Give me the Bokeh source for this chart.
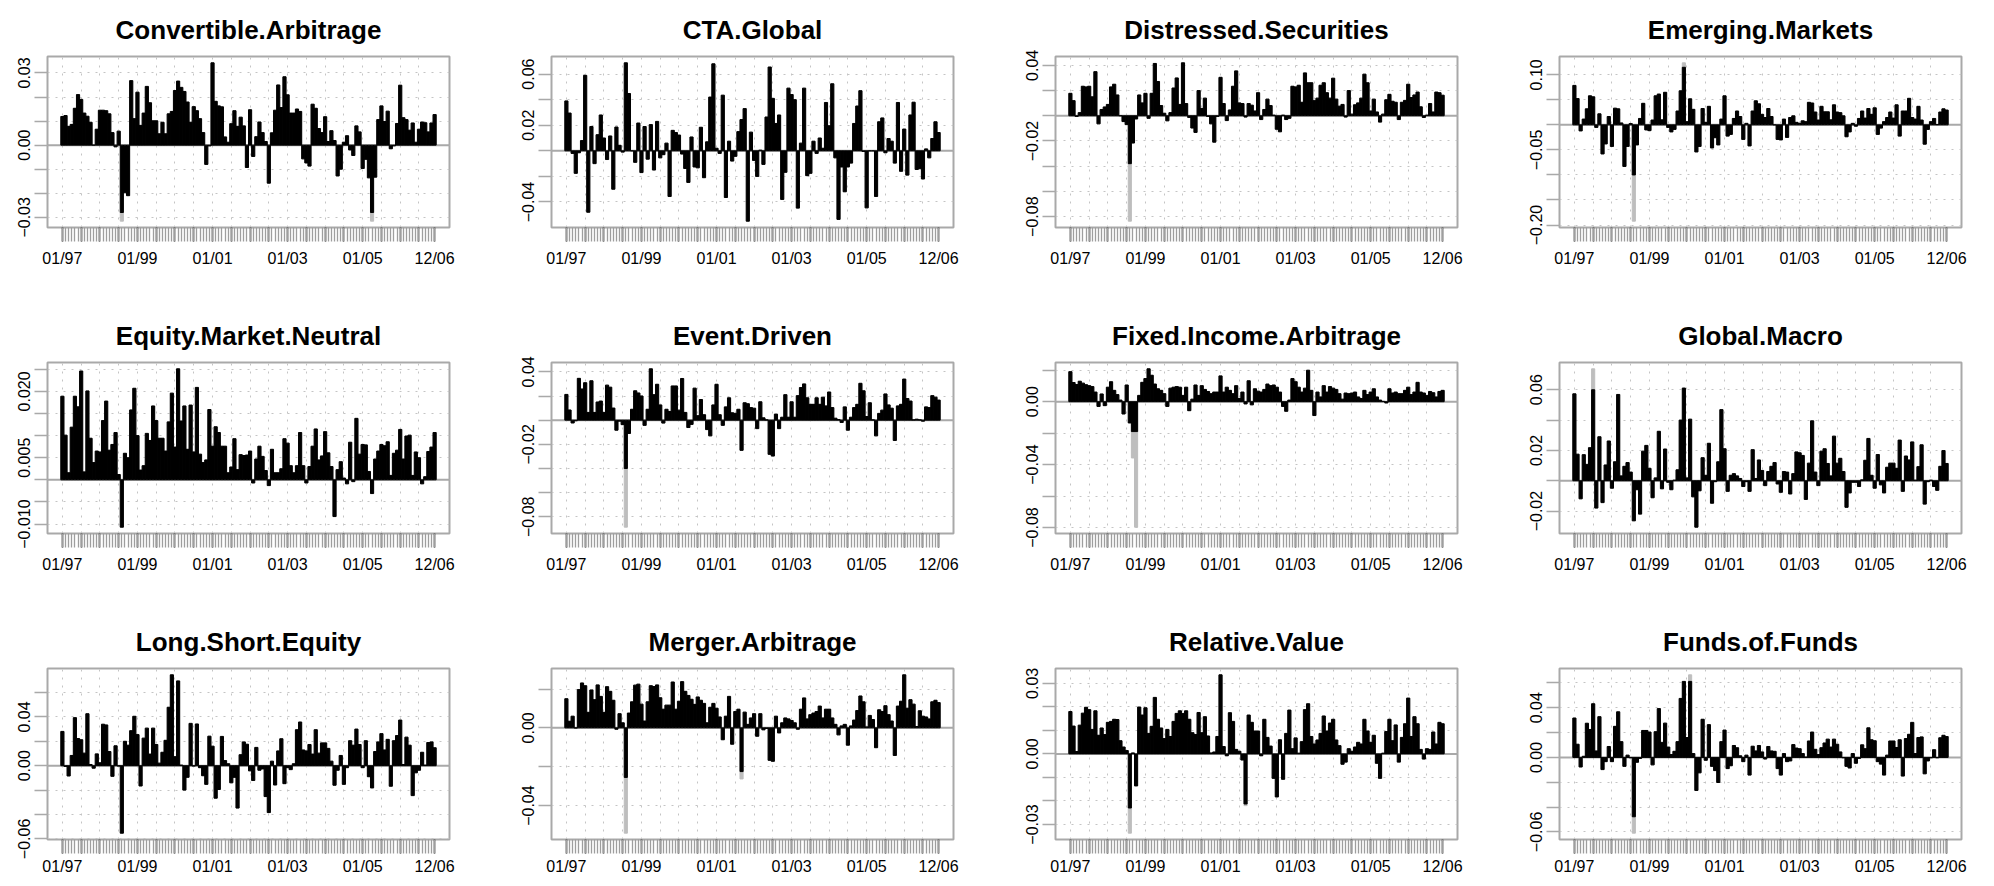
from bokeh.plotting import figure
from bokeh.layouts import gridplot
from bokeh.models import FixedTicker, Span, ColumnDataSource
from bokeh.embed import file_html
from bokeh.resources import INLINE

# ---------------- data (monthly returns, Jan 1997 .. Dec 2006) ----------------
convertible_arbitrage = [
    0.0119, 0.0123, 0.0078, 0.0086, 0.0153, 0.0210, 0.0190, 0.0133, 0.0120, 0.0095,
    0.0000, 0.0066, 0.0145, 0.0145, 0.0143, 0.0130, 0.0052, -0.0007, 0.0058, -0.0280,
    -0.0198, -0.0210, 0.0268, 0.0110, 0.0220, 0.0082, 0.0133, 0.0244, 0.0176, 0.0101,
    0.0101, 0.0047, 0.0095, 0.0047, 0.0130, 0.0140, 0.0227, 0.0266, 0.0240, 0.0223,
    0.0179, 0.0095, 0.0160, 0.0143, 0.0110, 0.0052, -0.0080, -0.0003, 0.0342, 0.0182,
    0.0163, 0.0159, 0.0034, 0.0012, 0.0089, 0.0143, 0.0078, 0.0116, 0.0080, -0.0093,
    0.0147, -0.0047, 0.0035, 0.0096, 0.0052, 0.0015, -0.0158, 0.0051, 0.0145, 0.0250,
    0.0156, 0.0284, 0.0209, 0.0133, 0.0133, 0.0150, 0.0140, -0.0057, -0.0074, -0.0087,
    0.0170, 0.0153, 0.0069, 0.0052, 0.0118, 0.0015, 0.0060, 0.0019, -0.0128, -0.0100,
    0.0012, 0.0039, -0.0020, -0.0043, 0.0080, 0.0055, -0.0097, -0.0059, -0.0136, -0.0280,
    -0.0133, 0.0106, 0.0163, 0.0098, 0.0141, -0.0015, -0.0003, 0.0090, 0.0249, 0.0114,
    0.0106, 0.0062, 0.0092, 0.0012, 0.0066, 0.0096, 0.0093, 0.0055, 0.0092, 0.0127]
convertible_arbitrage_raw_month = [19, 99]
convertible_arbitrage_raw_value = [-0.0316, -0.0316]

cta_global = [
    0.0390, 0.0295, -0.0020, -0.0176, -0.0015, 0.0080, 0.0590, -0.0480, 0.0190, -0.0100,
    0.0126, 0.0280, 0.0100, -0.0068, 0.0116, -0.0300, 0.0186, 0.0043, -0.0010, 0.0688,
    0.0448, 0.0000, -0.0090, 0.0217, -0.0170, 0.0190, -0.0065, 0.0205, -0.0150, 0.0230,
    -0.0055, -0.0030, 0.0060, -0.0357, 0.0160, 0.0143, 0.0123, -0.0025, -0.0138, -0.0247,
    0.0108, -0.0126, -0.0133, 0.0184, -0.0210, 0.0070, 0.0420, 0.0680, 0.0020, -0.0020,
    0.0435, -0.0365, 0.0075, -0.0080, -0.0043, 0.0150, 0.0244, 0.0330, -0.0550, 0.0146,
    -0.0075, -0.0200, 0.0005, -0.0106, 0.0264, 0.0655, 0.0410, 0.0214, 0.0280, -0.0380,
    -0.0168, 0.0490, 0.0440, 0.0400, -0.0448, 0.0060, 0.0490, -0.0194, -0.0176, 0.0075,
    -0.0020, 0.0100, 0.0020, 0.0378, 0.0196, 0.0524, -0.0055, -0.0536, -0.0126, -0.0320,
    -0.0126, -0.0096, 0.0214, 0.0350, 0.0470, -0.0005, -0.0446, 0.0000, 0.0000, -0.0357,
    0.0227, 0.0257, -0.0015, 0.0096, 0.0075, -0.0096, 0.0378, -0.0160, 0.0170, -0.0190,
    0.0280, 0.0380, -0.0146, -0.0140, -0.0220, 0.0015, -0.0055, 0.0096, 0.0227, 0.0143]
cta_global_raw_month = []
cta_global_raw_value = []

distressed_securities = [
    0.0178, 0.0120, -0.0005, 0.0025, 0.0234, 0.0229, 0.0234, 0.0150, 0.0350, -0.0064,
    0.0050, 0.0070, 0.0090, 0.0229, 0.0250, 0.0165, 0.0000, -0.0046, -0.0070, -0.0380,
    -0.0216, -0.0025, 0.0165, 0.0102, 0.0178, -0.0020, 0.0178, 0.0415, 0.0272, 0.0081,
    0.0020, -0.0040, 0.0025, 0.0220, 0.0300, 0.0090, 0.0420, 0.0097, -0.0013, -0.0097,
    -0.0132, 0.0200, 0.0058, 0.0140, -0.0005, -0.0064, -0.0209, -0.0005, 0.0305, 0.0097,
    -0.0038, 0.0046, 0.0234, 0.0356, 0.0102, 0.0097, -0.0010, 0.0097, 0.0084, 0.0038,
    0.0183, -0.0030, 0.0050, 0.0132, 0.0081, 0.0005, -0.0107, -0.0127, 0.0005, -0.0030,
    -0.0020, 0.0234, 0.0229, 0.0242, 0.0107, 0.0340, 0.0262, 0.0262, 0.0120, 0.0140,
    0.0242, 0.0262, 0.0183, 0.0140, 0.0298, 0.0132, 0.0076, 0.0090, -0.0010, 0.0200,
    0.0013, 0.0087, 0.0102, 0.0140, 0.0330, 0.0262, 0.0038, 0.0132, 0.0030, -0.0050,
    0.0013, 0.0127, 0.0170, 0.0115, 0.0107, -0.0030, 0.0107, 0.0122, 0.0250, 0.0145,
    0.0165, 0.0188, 0.0071, -0.0013, 0.0005, 0.0097, 0.0030, 0.0188, 0.0183, 0.0163]
distressed_securities_raw_month = [19]
distressed_securities_raw_value = [-0.0836]

emerging_markets = [
    0.0788, 0.0525, -0.0120, 0.0115, 0.0320, 0.0580, 0.0560, -0.0050, 0.0220, -0.0580,
    -0.0380, 0.0167, -0.0430, 0.0333, 0.0320, 0.0038, -0.0830, -0.0430, 0.0026, -0.1000,
    -0.0400, 0.0128, 0.0430, -0.0100, -0.0115, 0.0096, 0.0580, 0.0615, 0.0100, 0.0650,
    -0.0050, -0.0140, -0.0090, 0.0276, 0.0680, 0.1150, 0.0064, 0.0520, 0.0310, -0.0540,
    -0.0430, 0.0327, 0.0050, 0.0370, -0.0460, -0.0256, -0.0400, 0.0115, 0.0580, -0.0224,
    -0.0190, 0.0128, 0.0276, 0.0167, -0.0290, 0.0030, -0.0420, 0.0276, 0.0480, 0.0420,
    0.0210, 0.0147, 0.0327, 0.0167, 0.0000, -0.0290, -0.0300, 0.0115, -0.0250, 0.0147,
    0.0180, 0.0050, 0.0030, 0.0080, 0.0064, 0.0450, 0.0436, 0.0256, 0.0096, 0.0370,
    0.0260, 0.0260, 0.0100, 0.0400, 0.0256, 0.0244, 0.0180, -0.0237, -0.0140, 0.0030,
    -0.0026, 0.0128, 0.0276, 0.0135, 0.0327, 0.0210, 0.0340, -0.0190, -0.0064, 0.0064,
    0.0147, 0.0256, 0.0135, 0.0400, -0.0224, 0.0276, 0.0276, 0.0530, 0.0147, 0.0115,
    0.0370, 0.0096, -0.0385, -0.0090, 0.0064, 0.0128, 0.0005, 0.0256, 0.0320, 0.0295]
emerging_markets_raw_month = [19, 35]
emerging_markets_raw_value = [-0.1923, 0.1239]

equity_market_neutral = [
    0.0189, 0.0101, 0.0016, 0.0119, 0.0189, 0.0165, 0.0246, 0.0018, 0.0201, 0.0094,
    0.0039, 0.0065, 0.0063, 0.0134, 0.0178, 0.0067, 0.0080, 0.0107, 0.0012, -0.0107,
    0.0060, 0.0050, 0.0158, 0.0207, 0.0100, 0.0022, 0.0032, 0.0105, 0.0089, 0.0167,
    0.0134, 0.0094, 0.0094, 0.0065, 0.0131, 0.0196, 0.0074, 0.0251, 0.0133, 0.0167,
    0.0069, 0.0169, 0.0063, 0.0209, 0.0058, 0.0039, 0.0045, 0.0159, 0.0076, 0.0120,
    0.0107, 0.0076, 0.0076, 0.0016, 0.0029, 0.0093, 0.0023, 0.0057, 0.0055, 0.0056,
    0.0065, -0.0007, 0.0047, 0.0076, 0.0053, 0.0021, -0.0013, 0.0069, 0.0016, 0.0016,
    0.0025, 0.0093, 0.0083, 0.0032, 0.0016, 0.0032, 0.0107, 0.0032, -0.0007, 0.0030,
    0.0076, 0.0115, 0.0045, 0.0054, 0.0109, 0.0061, 0.0030, -0.0083, 0.0023, 0.0041,
    0.0004, -0.0009, 0.0085, -0.0004, 0.0139, 0.0058, 0.0080, 0.0079, 0.0019, -0.0031,
    0.0047, 0.0065, 0.0080, 0.0077, 0.0086, 0.0010, 0.0060, 0.0067, 0.0114, 0.0047,
    0.0099, 0.0101, 0.0010, 0.0063, 0.0050, -0.0009, 0.0007, 0.0064, 0.0074, 0.0107]
equity_market_neutral_raw_month = []
equity_market_neutral_raw_value = []

event_driven = [
    0.0213, 0.0084, -0.0023, -0.0005, 0.0346, 0.0258, 0.0310, 0.0064, 0.0326, 0.0064,
    0.0150, 0.0158, 0.0064, 0.0290, 0.0273, 0.0100, -0.0083, -0.0008, -0.0037, -0.0400,
    -0.0110, 0.0090, 0.0243, 0.0225, 0.0200, -0.0043, 0.0090, 0.0425, 0.0211, 0.0297,
    0.0126, -0.0024, 0.0090, 0.0072, 0.0283, 0.0283, 0.0083, 0.0345, 0.0064, -0.0061,
    -0.0035, 0.0265, 0.0037, 0.0171, 0.0045, -0.0078, -0.0130, 0.0126, 0.0297, 0.0045,
    -0.0043, 0.0110, 0.0185, 0.0061, 0.0056, 0.0090, -0.0250, 0.0144, 0.0136, 0.0104,
    0.0099, -0.0070, 0.0152, 0.0019, 0.0003, -0.0283, -0.0297, 0.0050, -0.0070, 0.0024,
    0.0211, 0.0024, 0.0152, 0.0024, 0.0203, 0.0270, 0.0300, 0.0185, 0.0131, 0.0131,
    0.0185, 0.0131, 0.0190, 0.0118, 0.0233, 0.0104, 0.0016, 0.0005, -0.0019, 0.0110,
    -0.0083, 0.0024, 0.0104, 0.0131, 0.0305, 0.0243, 0.0030, 0.0144, 0.0003, -0.0130,
    0.0056, 0.0083, 0.0217, 0.0126, 0.0099, -0.0168, 0.0118, 0.0131, 0.0340, 0.0179,
    0.0158, 0.0003, 0.0008, 0.0003, -0.0008, 0.0110, 0.0104, 0.0203, 0.0190, 0.0166]
event_driven_raw_month = [19]
event_driven_raw_value = [-0.0886]

fixed_income_arbitrage = [
    0.0191, 0.0122, 0.0109, 0.0130, 0.0118, 0.0108, 0.0102, 0.0096, 0.0061, -0.0030,
    0.0049, -0.0025, 0.0092, 0.0127, 0.0072, 0.0045, 0.0010, -0.0078, 0.0106, -0.0135,
    -0.0190, -0.0190, 0.0040, 0.0123, 0.0147, 0.0209, 0.0168, 0.0112, 0.0082, 0.0072,
    0.0051, -0.0030, 0.0086, 0.0092, 0.0096, 0.0092, 0.0040, 0.0092, -0.0057, 0.0016,
    0.0106, 0.0040, 0.0102, 0.0078, 0.0065, 0.0051, 0.0061, 0.0061, 0.0164, 0.0061,
    0.0092, 0.0072, 0.0051, 0.0102, 0.0020, 0.0061, -0.0014, 0.0133, -0.0020, 0.0082,
    0.0067, 0.0061, 0.0078, 0.0112, 0.0102, 0.0106, 0.0092, 0.0061, -0.0030, -0.0061,
    0.0010, 0.0147, 0.0127, 0.0092, 0.0061, 0.0086, 0.0200, 0.0072, -0.0088, 0.0061,
    0.0030, 0.0102, 0.0061, 0.0096, 0.0086, 0.0078, 0.0051, 0.0016, 0.0055, 0.0051,
    0.0055, 0.0061, 0.0030, 0.0020, 0.0072, 0.0045, 0.0061, 0.0082, 0.0030, 0.0010,
    0.0002, -0.0008, 0.0082, 0.0055, 0.0061, 0.0051, 0.0051, 0.0072, 0.0092, 0.0045,
    0.0061, 0.0123, 0.0061, 0.0055, 0.0040, 0.0065, 0.0057, 0.0030, 0.0065, 0.0072]
fixed_income_arbitrage_raw_month = [20, 21]
fixed_income_arbitrage_raw_value = [-0.0358, -0.0798]

global_macro = [
    0.0573, 0.0175, -0.0119, 0.0172, 0.0108, 0.0218, 0.0600, -0.0180, 0.0290, -0.0144,
    0.0104, 0.0262, -0.0049, 0.0125, 0.0569, 0.0032, 0.0095, 0.0120, 0.0057, -0.0264,
    -0.0059, -0.0220, 0.0195, 0.0233, 0.0082, -0.0112, 0.0019, 0.0326, -0.0053, 0.0209,
    -0.0010, -0.0059, 0.0004, 0.0072, 0.0400, 0.0611, 0.0019, 0.0406, -0.0106, -0.0306,
    -0.0066, 0.0152, 0.0036, 0.0247, -0.0148, -0.0006, 0.0125, 0.0469, 0.0211, -0.0070,
    0.0036, 0.0047, 0.0032, 0.0015, -0.0038, -0.0006, -0.0070, 0.0205, 0.0015, 0.0137,
    0.0068, -0.0032, 0.0061, 0.0095, 0.0120, -0.0021, -0.0076, 0.0061, 0.0057, -0.0087,
    0.0047, 0.0190, 0.0184, 0.0167, -0.0123, 0.0116, 0.0395, 0.0057, -0.0032, 0.0195,
    0.0211, 0.0114, 0.0032, 0.0294, 0.0116, 0.0148, 0.0061, -0.0175, -0.0080, -0.0010,
    -0.0010, -0.0038, 0.0006, 0.0135, 0.0279, 0.0036, -0.0049, 0.0173, -0.0027, -0.0080,
    0.0089, 0.0116, 0.0116, 0.0082, 0.0268, -0.0070, 0.0163, 0.0137, 0.0256, 0.0004,
    0.0093, 0.0237, -0.0154, -0.0006, 0.0004, -0.0038, -0.0063, 0.0095, 0.0199, 0.0114]
global_macro_raw_month = [6]
global_macro_raw_value = [0.0738]

long_short_equity = [
    0.0281, -0.0006, -0.0084, 0.0084, 0.0394, 0.0223, 0.0213, 0.0103, 0.0426, 0.0010,
    -0.0020, 0.0097, 0.0024, 0.0340, 0.0334, 0.0116, -0.0087, 0.0163, -0.0003, -0.0553,
    0.0200, 0.0168, 0.0287, 0.0405, 0.0255, -0.0166, 0.0226, 0.0308, 0.0095, 0.0308,
    0.0174, 0.0021, 0.0110, 0.0208, 0.0479, 0.0745, 0.0074, 0.0695, 0.0005, -0.0200,
    -0.0095, 0.0347, -0.0003, 0.0342, -0.0016, -0.0082, -0.0153, 0.0242, 0.0160, -0.0266,
    -0.0195, 0.0240, 0.0042, 0.0016, -0.0140, -0.0095, -0.0347, 0.0090, 0.0195, 0.0176,
    -0.0042, -0.0121, 0.0150, -0.0037, -0.0026, -0.0253, -0.0384, 0.0037, -0.0158, 0.0121,
    0.0221, -0.0147, -0.0016, -0.0032, 0.0016, 0.0295, 0.0358, 0.0129, 0.0121, 0.0174,
    0.0095, 0.0295, 0.0103, 0.0187, 0.0187, 0.0142, 0.0037, -0.0160, -0.0037, 0.0084,
    -0.0153, -0.0016, 0.0205, 0.0168, 0.0300, 0.0174, -0.0016, 0.0205, -0.0090, -0.0182,
    0.0116, 0.0195, 0.0263, 0.0129, 0.0216, -0.0168, 0.0205, 0.0247, 0.0374, 0.0010,
    0.0234, 0.0168, -0.0245, -0.0058, -0.0037, 0.0110, 0.0005, 0.0190, 0.0195, 0.0147]
long_short_equity_raw_month = []
long_short_equity_raw_value = []

merger_arbitrage = [
    0.0150, 0.0034, 0.0060, -0.0001, 0.0197, 0.0231, 0.0217, 0.0080, 0.0195, 0.0145,
    0.0221, 0.0162, 0.0080, 0.0212, 0.0188, 0.0142, -0.0007, 0.0073, 0.0026, -0.0255,
    0.0076, 0.0134, 0.0220, 0.0225, 0.0122, 0.0035, 0.0134, 0.0217, 0.0213, 0.0221,
    0.0155, 0.0096, 0.0117, 0.0117, 0.0236, 0.0096, 0.0137, 0.0238, 0.0188, 0.0167,
    0.0147, 0.0121, 0.0159, 0.0142, 0.0126, 0.0026, 0.0106, 0.0126, 0.0101, 0.0056,
    -0.0061, 0.0060, 0.0162, -0.0084, 0.0084, 0.0096, -0.0225, 0.0081, 0.0018, 0.0051,
    0.0073, -0.0043, 0.0073, -0.0010, -0.0003, -0.0167, -0.0172, 0.0060, -0.0026, 0.0026,
    0.0051, 0.0046, 0.0038, 0.0026, -0.0007, 0.0096, 0.0154, 0.0046, 0.0068, 0.0076,
    0.0084, 0.0112, 0.0051, 0.0096, 0.0096, 0.0051, 0.0018, -0.0036, 0.0010, 0.0018,
    -0.0089, 0.0010, 0.0040, 0.0089, 0.0164, 0.0134, 0.0005, 0.0064, 0.0043, -0.0102,
    0.0093, 0.0084, 0.0114, 0.0068, 0.0035, -0.0142, 0.0112, 0.0137, 0.0273, 0.0101,
    0.0145, 0.0122, 0.0007, 0.0088, 0.0060, 0.0056, 0.0046, 0.0134, 0.0142, 0.0130]
merger_arbitrage_raw_month = [19, 56]
merger_arbitrage_raw_value = [-0.0542, -0.0263]

relative_value = [
    0.0180, 0.0118, 0.0010, 0.0122, 0.0173, 0.0198, 0.0188, 0.0104, 0.0183, 0.0079,
    0.0110, 0.0082, 0.0134, 0.0138, 0.0147, 0.0146, 0.0056, 0.0029, 0.0014, -0.0230,
    0.0004, -0.0136, 0.0199, 0.0165, 0.0196, 0.0087, 0.0117, 0.0240, 0.0147, 0.0110,
    0.0065, 0.0104, 0.0074, 0.0138, 0.0172, 0.0183, 0.0172, 0.0183, 0.0147, 0.0090,
    0.0082, 0.0176, 0.0090, 0.0158, 0.0076, 0.0004, 0.0008, 0.0074, 0.0336, 0.0031,
    -0.0008, 0.0175, 0.0138, 0.0019, 0.0011, -0.0026, -0.0213, 0.0165, 0.0134, 0.0097,
    0.0097, -0.0008, 0.0147, 0.0070, 0.0033, -0.0104, -0.0183, 0.0060, -0.0108, 0.0087,
    0.0186, 0.0022, 0.0068, 0.0003, 0.0052, 0.0188, 0.0213, 0.0074, 0.0042, 0.0059,
    0.0087, 0.0161, 0.0097, 0.0131, 0.0147, 0.0059, 0.0035, -0.0044, -0.0035, 0.0022,
    0.0011, 0.0029, 0.0049, 0.0042, 0.0147, 0.0097, 0.0049, 0.0079, -0.0040, -0.0104,
    0.0003, 0.0095, 0.0147, 0.0056, 0.0123, -0.0035, 0.0070, 0.0128, 0.0237, 0.0074,
    0.0158, 0.0128, 0.0019, -0.0022, 0.0022, 0.0019, 0.0093, 0.0042, 0.0134, 0.0128]
relative_value_raw_month = [19, 56]
relative_value_raw_value = [-0.0337, -0.0220]

funds_of_funds = [
    0.0317, 0.0106, -0.0077, 0.0009, 0.0275, 0.0225, 0.0432, 0.0052, 0.0328, -0.0098,
    -0.0034, 0.0088, -0.0034, 0.0250, 0.0367, 0.0127, -0.0072, 0.0018, -0.0003, -0.0478,
    -0.0039, -0.0008, 0.0217, 0.0217, 0.0204, -0.0060, 0.0207, 0.0393, 0.0121, 0.0276,
    0.0083, 0.0023, 0.0049, 0.0127, 0.0475, 0.0612, 0.0160, 0.0612, 0.0031, -0.0266,
    -0.0124, 0.0307, -0.0023, 0.0264, -0.0072, -0.0106, -0.0202, 0.0127, 0.0220, -0.0090,
    -0.0067, 0.0096, 0.0078, 0.0013, -0.0034, 0.0018, -0.0142, 0.0090, 0.0052, 0.0096,
    0.0044, -0.0013, 0.0088, 0.0052, 0.0049, -0.0090, -0.0142, 0.0031, -0.0034, -0.0028,
    0.0103, 0.0075, 0.0070, 0.0031, 0.0003, 0.0132, 0.0204, 0.0065, 0.0023, 0.0078,
    0.0116, 0.0147, 0.0083, 0.0147, 0.0106, 0.0044, -0.0003, -0.0072, -0.0085, 0.0031,
    -0.0047, -0.0008, 0.0101, 0.0070, 0.0238, 0.0142, 0.0134, -0.0034, -0.0054, -0.0142,
    0.0018, 0.0132, 0.0132, 0.0080, 0.0142, -0.0150, 0.0152, 0.0186, 0.0282, 0.0031,
    0.0160, 0.0165, -0.0132, -0.0028, -0.0003, 0.0062, -0.0003, 0.0158, 0.0178, 0.0168]
funds_of_funds_raw_month = [19, 37]
funds_of_funds_raw_value = [-0.0610, 0.0665]

# x-axis date labels (month number, 1 = Jan 1997); heavy ticks every six months
x_label_months = [1, 25, 49, 73, 97, 120]
x_label_texts = ["01/97", "01/99", "01/01", "01/03", "01/05", "12/06"]

# y-axis ticks and printed labels per panel
panels = [
    ("Convertible.Arbitrage", convertible_arbitrage, convertible_arbitrage_raw_month, convertible_arbitrage_raw_value,
     [-0.03, -0.02, -0.01, 0.0, 0.01, 0.02, 0.03], ["\u22120.03", "", "", "0.00", "", "", "0.03"]),
    ("CTA.Global", cta_global, cta_global_raw_month, cta_global_raw_value,
     [-0.04, -0.02, 0.0, 0.02, 0.04, 0.06], ["\u22120.04", "", "", "0.02", "", "0.06"]),
    ("Distressed.Securities", distressed_securities, distressed_securities_raw_month, distressed_securities_raw_value,
     [-0.08, -0.06, -0.04, -0.02, 0.0, 0.02, 0.04], ["\u22120.08", "", "", "\u22120.02", "", "", "0.04"]),
    ("Emerging.Markets", emerging_markets, emerging_markets_raw_month, emerging_markets_raw_value,
     [-0.20, -0.15, -0.10, -0.05, 0.0, 0.05, 0.10], ["\u22120.20", "", "", "\u22120.05", "", "", "0.10"]),
    ("Equity.Market.Neutral", equity_market_neutral, equity_market_neutral_raw_month, equity_market_neutral_raw_value,
     [-0.010, -0.005, 0.0, 0.005, 0.010, 0.015, 0.020, 0.025], ["\u22120.010", "", "", "0.005", "", "", "0.020", ""]),
    ("Event.Driven", event_driven, event_driven_raw_month, event_driven_raw_value,
     [-0.08, -0.06, -0.04, -0.02, 0.0, 0.02, 0.04], ["\u22120.08", "", "", "\u22120.02", "", "", "0.04"]),
    ("Fixed.Income.Arbitrage", fixed_income_arbitrage, fixed_income_arbitrage_raw_month, fixed_income_arbitrage_raw_value,
     [-0.08, -0.06, -0.04, -0.02, 0.0, 0.02], ["\u22120.08", "", "\u22120.04", "", "0.00", ""]),
    ("Global.Macro", global_macro, global_macro_raw_month, global_macro_raw_value,
     [-0.02, 0.0, 0.02, 0.04, 0.06], ["\u22120.02", "", "0.02", "", "0.06"]),
    ("Long.Short.Equity", long_short_equity, long_short_equity_raw_month, long_short_equity_raw_value,
     [-0.06, -0.04, -0.02, 0.0, 0.02, 0.04, 0.06], ["\u22120.06", "", "", "0.00", "", "0.04", ""]),
    ("Merger.Arbitrage", merger_arbitrage, merger_arbitrage_raw_month, merger_arbitrage_raw_value,
     [-0.04, -0.02, 0.0, 0.02], ["\u22120.04", "", "0.00", ""]),
    ("Relative.Value", relative_value, relative_value_raw_month, relative_value_raw_value,
     [-0.03, -0.02, -0.01, 0.0, 0.01, 0.02, 0.03], ["\u22120.03", "", "", "0.00", "", "", "0.03"]),
    ("Funds.of.Funds", funds_of_funds, funds_of_funds_raw_month, funds_of_funds_raw_value,
     [-0.06, -0.04, -0.02, 0.0, 0.02, 0.04, 0.06], ["\u22120.06", "", "", "0.00", "", "0.04", ""]),
]

# ---------------- layout / style ----------------
FONT = "Liberation Sans"
FRAME_W, FRAME_H = 402, 178
COL_W, COL_W_LAST = 504, 466
ROW_H, ROW_H_LAST = 306, 265
B_LEFT, B_TOP = 47, 49
BOX = "#A9A9A9"
GRIDC = "#C4C4C4"

figs = []
for k, (name, clean, raw_m, raw_v, yt, yl) in enumerate(panels):
    r, c = divmod(k, 4)
    n = len(clean)
    pos = list(range(1, n + 1))
    raw = list(clean)
    for m, v in zip(raw_m, raw_v):
        raw[m] = v
    lo, hi = min(raw), max(raw)
    span = hi - lo
    xpad = (n - 1) * 0.04
    w = COL_W_LAST if c == 3 else COL_W
    h = ROW_H_LAST if r == 2 else ROW_H
    p = figure(width=w, height=h,
               x_range=(1 - xpad, n + xpad), y_range=(lo - 0.04 * span, hi + 0.04 * span),
               output_backend="svg", toolbar_location=None, tools="",
               min_border_left=B_LEFT, min_border_right=w - B_LEFT - FRAME_W,
               min_border_top=B_TOP, min_border_bottom=h - B_TOP - FRAME_H,
               title=name)
    p.title.text_font = FONT
    p.title.text_font_style = "bold"
    p.title.text_font_size = "26px"
    p.title.align = "center"
    p.title.text_color = "#000000"
    p.title.standoff = 24

    p.outline_line_color = BOX
    p.outline_line_width = 2
    p.background_fill_color = "white"
    p.border_fill_color = "white"

    # x axis: gray tick every month, black tick every six months, date labels
    major = list(range(1, n + 1, 6)) + [n]
    p.xaxis.ticker = FixedTicker(ticks=major, minor_ticks=pos)
    ov = {t: "" for t in major}
    for t, s in zip(x_label_months, x_label_texts):
        ov[t] = s
    p.xaxis.major_label_overrides = ov
    p.xaxis.axis_line_color = None
    p.xaxis.major_tick_out = 14
    p.xaxis.major_tick_in = 0
    p.xaxis.minor_tick_out = 14
    p.xaxis.minor_tick_in = 0
    p.xaxis.major_tick_line_color = "#000000"
    p.xaxis.major_tick_line_width = 1.5
    p.xaxis.minor_tick_line_color = "#9E9E9E"
    p.xaxis.minor_tick_line_width = 1.3
    p.xaxis.major_label_text_font = FONT
    p.xaxis.major_label_text_font_size = "16px"
    p.xaxis.major_label_text_color = "#000000"
    p.xaxis.major_label_standoff = 4 if r == 2 else 8
    p.xgrid.ticker = FixedTicker(ticks=list(range(1, n + 1, 6)))
    p.xgrid.grid_line_color = GRIDC
    p.xgrid.grid_line_dash = "2 6"
    p.xgrid.grid_line_width = 1

    # y axis
    p.yaxis.ticker = FixedTicker(ticks=yt, minor_ticks=[])
    p.yaxis.major_label_overrides = {t: s for t, s in zip(yt, yl)}
    p.yaxis.major_label_orientation = "vertical"
    p.yaxis.axis_line_color = None
    p.yaxis.major_tick_out = 13
    p.yaxis.major_tick_in = 0
    p.yaxis.major_tick_line_color = "#A9A9A9"
    p.yaxis.major_tick_line_width = 1.5
    p.yaxis.major_label_text_font = FONT
    p.yaxis.major_label_text_font_size = "16px"
    p.yaxis.major_label_text_color = "#000000"
    p.yaxis.major_label_standoff = 4
    p.ygrid.grid_line_color = GRIDC
    p.ygrid.grid_line_dash = "2 6"
    p.ygrid.grid_line_width = 1

    p.add_layout(Span(location=0, dimension="width", line_color="#A9A9A9",
                      line_width=2, level="underlay"))

    src_raw = ColumnDataSource(dict(x=pos, top=raw))
    src = ColumnDataSource(dict(x=pos, top=clean))
    p.vbar(x="x", top="top", bottom=0, width=1.0, source=src_raw,
           fill_color="#BEBEBE", line_color="#BEBEBE", line_width=1)
    p.vbar(x="x", top="top", bottom=0, width=1.0, source=src,
           fill_color="#000000", line_color="#000000", line_width=1)
    figs.append(p)

grid = gridplot([figs[0:4], figs[4:8], figs[8:12]], toolbar_location=None)

open("out.html", "w").write(file_html(grid, INLINE))
